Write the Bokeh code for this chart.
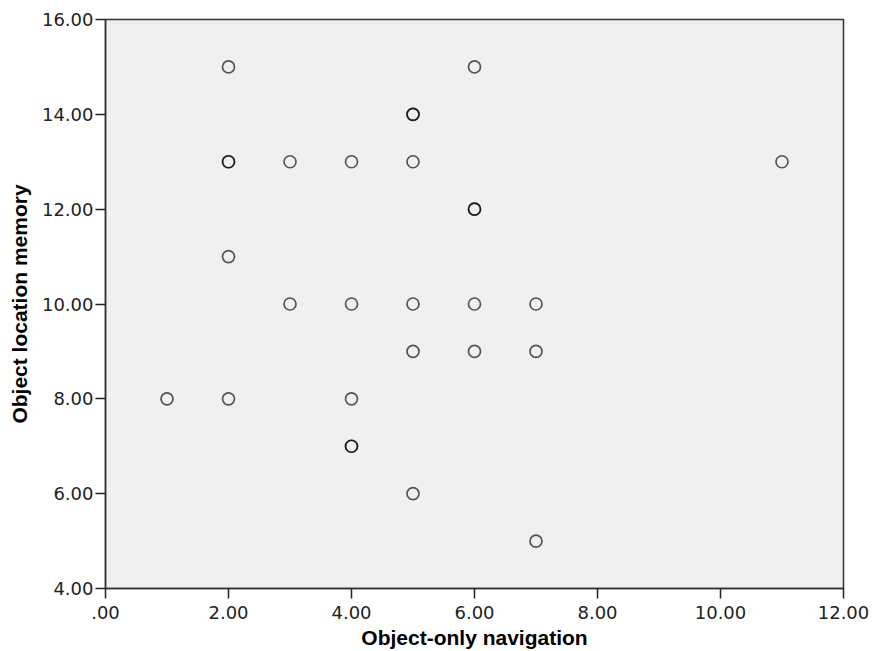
from bokeh.plotting import figure
from bokeh.models import FixedTicker, ColumnDataSource
from bokeh.embed import file_html
from bokeh.resources import INLINE

nav = [2, 6, 5, 5, 2, 2, 3, 4, 5, 11, 6, 6, 2, 3, 4, 5, 6, 7, 5, 6, 7, 1, 2, 4, 4, 4, 5, 7]
mem = [15, 15, 14, 14, 13, 13, 13, 13, 13, 13, 12, 12, 11, 10, 10, 10, 10, 10, 9, 9, 9, 8, 8, 8, 7, 7, 6, 5]

x_ticks = [0, 2, 4, 6, 8, 10, 12]
x_labels = [".00", "2.00", "4.00", "6.00", "8.00", "10.00", "12.00"]
y_ticks = [4, 6, 8, 10, 12, 14, 16]
y_labels = ["4.00", "6.00", "8.00", "10.00", "12.00", "14.00", "16.00"]

p = figure(width=873, height=651, output_backend="svg", toolbar_location=None,
           x_range=(0, 12), y_range=(4, 16),
           min_border_left=105, min_border_right=30, min_border_top=19, min_border_bottom=63)
p.background_fill_color = "#f0f0f0"
p.border_fill_color = "white"
p.outline_line_color = "#333333"
p.outline_line_width = 1.5
p.grid.visible = False

src = ColumnDataSource(dict(x=nav, y=mem))
p.scatter("x", "y", source=src, size=12, marker="circle", fill_color=None,
          line_color="black", line_alpha=0.65, line_width=1.7)

for ax, ticks, labels in ((p.xaxis[0], x_ticks, x_labels), (p.yaxis[0], y_ticks, y_labels)):
    ax.ticker = FixedTicker(ticks=ticks)
    ax.major_label_overrides = {t: l for t, l in zip(ticks, labels)}
    ax.minor_tick_line_color = None
    ax.major_tick_out = 10
    ax.major_tick_in = 0
    ax.axis_line_color = "#333333"
    ax.axis_line_width = 1.5
    ax.major_tick_line_color = "#222222"
    ax.major_tick_line_width = 1.5
    ax.major_label_text_font = "DejaVu Sans"
    ax.major_label_text_font_size = "18px"
    ax.major_label_text_color = "#222222"
    ax.axis_label_text_font = "Liberation Sans"
    ax.axis_label_text_font_style = "bold"
    ax.axis_label_text_font_size = "21px"
    ax.axis_label_text_color = "black"

p.xaxis.axis_label = "Object-only navigation"
p.yaxis.axis_label = "Object location memory"
p.xaxis.major_label_standoff = 7
p.yaxis.major_label_standoff = 2
p.xaxis.axis_label_standoff = 4
p.yaxis.axis_label_standoff = 8

open("out.html", "w").write(file_html(p, INLINE))
